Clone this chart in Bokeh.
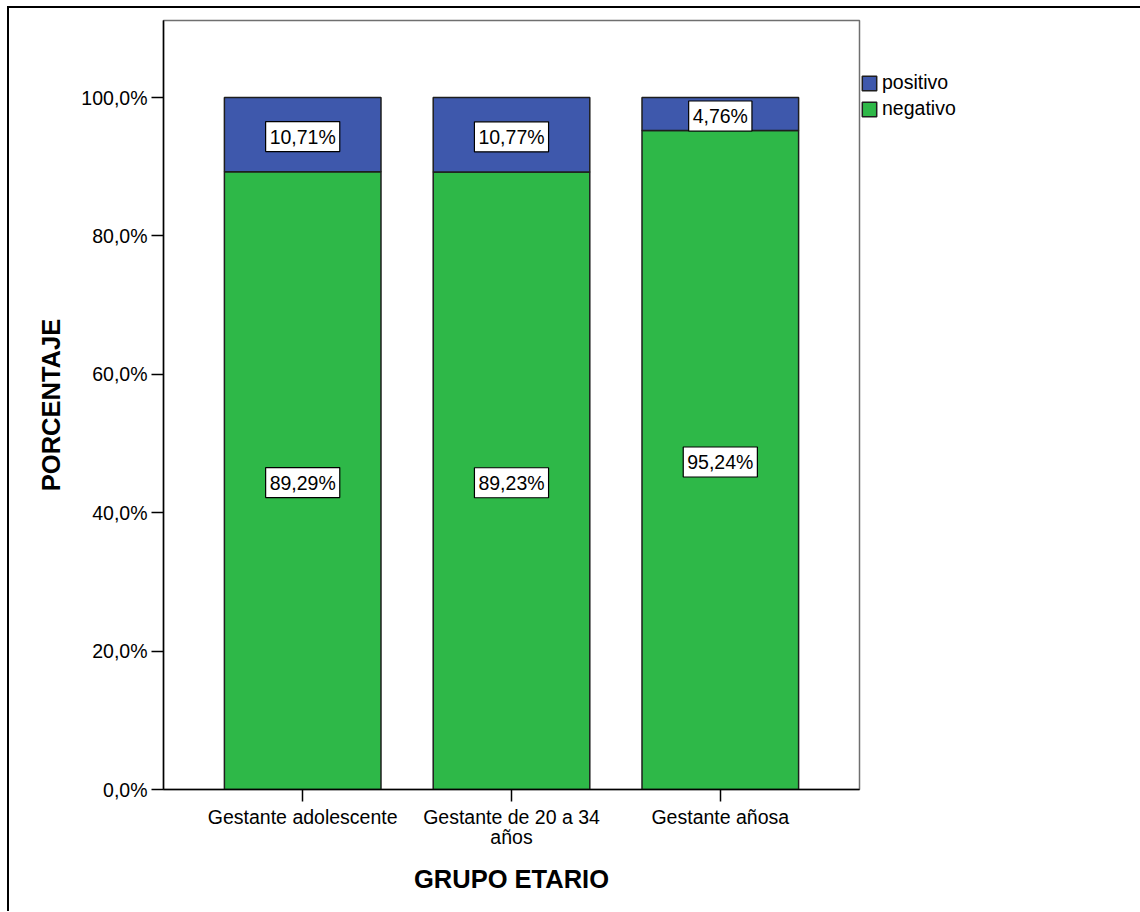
from bokeh.plotting import figure
from bokeh.models import (ColumnDataSource, FactorRange, Range1d, Legend, LegendItem,
                          FixedTicker)
from bokeh.core.properties import value
from bokeh.embed import file_html
from bokeh.resources import INLINE

# ---- data ----
grupos = ["Gestante adolescente", "Gestante de 20 a 34\naños", "Gestante añosa"]
positivo = [10.71, 10.77, 4.76]
negativo = [89.29, 89.23, 95.24]
y_ticks = [0, 20, 40, 60, 80, 100]
y_tick_labels = ["0,0%", "20,0%", "40,0%", "60,0%", "80,0%", "100,0%"]
series = ["negativo", "positivo"]

BLUE = "#3E58AC"
GREEN = "#2EB848"
FONT = "Liberation Sans"

src = ColumnDataSource(dict(grupo=grupos, negativo=negativo, positivo=positivo))

# label positions: middle of each stacked segment
lab_x, lab_y, lab_t = [], [], []
for g, n, pz in zip(grupos, negativo, positivo):
    lab_x += [g, g]
    lab_y += [n / 2.0, n + pz / 2.0]
    lab_t += [("%.2f" % n).replace(".", ",") + "%", ("%.2f" % pz).replace(".", ",") + "%"]
lab_src = ColumnDataSource(dict(x=lab_x, y=lab_y, t=lab_t))

p = figure(
    x_range=FactorRange(*grupos, range_padding=0.1111, range_padding_units="percent"),
    y_range=Range1d(0, 111.13),
    frame_width=696, frame_height=769,
    min_border_left=154, min_border_top=12, min_border_right=271, min_border_bottom=122,
    output_backend="svg", toolbar_location=None,
    background_fill_color="white", border_fill_color="white",
)
p.styles = {"border-top": "2px solid black", "border-left": "2px solid black",
            "margin-left": "7px", "margin-top": "6px"}

rs = p.vbar_stack(series, x="grupo", width=0.75, source=src,
                  color=[GREEN, BLUE], line_color="#1e1e1e", line_width=1.5)

p.text(x="x", y="y", text="t", source=lab_src,
       text_font=value(FONT), text_font_size="19.5px", text_color="black",
       text_align="center", text_baseline="middle", y_offset=2,
       background_fill_color="white", border_line_color="black", border_line_width=1.2,
       padding=4)

# axes
for ax in (p.xaxis[0], p.yaxis[0]):
    ax.axis_line_color = "black"
    ax.axis_line_width = 1.5
    ax.major_tick_line_color = "black"
    ax.major_tick_line_width = 1.5
    ax.major_tick_out = 12
    ax.major_tick_in = 0
    ax.minor_tick_out = 0
    ax.minor_tick_in = 0
    ax.major_label_text_font = FONT
    ax.major_label_text_font_size = "19.5px"
    ax.major_label_text_color = "black"
    ax.axis_label_text_font = FONT
    ax.axis_label_text_font_size = "25.5px"
    ax.axis_label_text_font_style = "bold"
    ax.axis_label_text_color = "black"

p.yaxis.ticker = FixedTicker(ticks=y_ticks)
p.yaxis.major_label_overrides = {t: l for t, l in zip(y_ticks, y_tick_labels)}
p.yaxis.major_label_standoff = 4
p.yaxis.axis_label = "PORCENTAJE"
p.yaxis.axis_label_standoff = 13
p.xaxis.major_label_standoff = 4
p.xaxis.major_label_text_line_height = 0.92
p.xaxis.axis_label = "GRUPO ETARIO"
p.xaxis.axis_label_standoff = 14

p.xgrid.visible = False
p.ygrid.visible = False
p.outline_line_color = "#6f6f6f"
p.outline_line_width = 1.5

legend = Legend(
    items=[LegendItem(label="positivo", renderers=[rs[1]]),
           LegendItem(label="negativo", renderers=[rs[0]])],
    location=(1, 669), orientation="vertical",
    glyph_width=18, glyph_height=18, label_standoff=4, spacing=3,
    padding=0, margin=0,
    label_text_font=FONT, label_text_font_size="19.5px", label_text_color="black",
    background_fill_alpha=0, border_line_alpha=0,
)
p.add_layout(legend, "right")

open("out.html", "w").write(file_html(p, INLINE))
